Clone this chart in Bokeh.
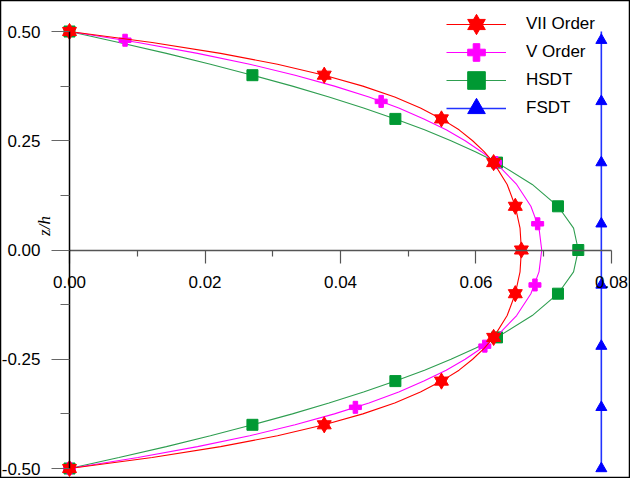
import math
from bokeh.plotting import figure
from bokeh.models import (Range1d, LinearAxis, FixedTicker, PrintfTickFormatter,
                          Legend, LegendItem, Label)
from bokeh.embed import file_html
from bokeh.resources import INLINE

# ---------------- data ----------------
curve_y = [0.5, 0.475, 0.45, 0.425, 0.4, 0.375, 0.35, 0.325, 0.3, 0.275, 0.25, 0.225, 0.2, 0.15, 0.1, 0.05, 0.0,
           -0.05, -0.1, -0.15, -0.2, -0.225, -0.25, -0.275, -0.3, -0.325, -0.35, -0.375, -0.4, -0.425, -0.45,
           -0.475, -0.5]

# VII Order
vii_y = [0.5, 0.4, 0.3, 0.2, 0.1, 0.0, -0.1, -0.2, -0.3, -0.4, -0.5]
vii_x = [0.0, 0.0376, 0.0549, 0.0626, 0.0658, 0.0667, 0.0658, 0.0626, 0.0549, 0.0376, 0.0]
vii_curve_x = [0.0, 0.0122, 0.0223, 0.0307, 0.0376, 0.0433, 0.0480, 0.0518, 0.0549, 0.0575, 0.0595, 0.0612,
               0.0626, 0.0646, 0.0658, 0.0665, 0.0667,
               0.0665, 0.0658, 0.0646, 0.0626, 0.0612, 0.0595, 0.0575, 0.0549, 0.0518, 0.0480, 0.0433,
               0.0376, 0.0307, 0.0223, 0.0122, 0.0]

# V Order
v_y = [0.48, 0.34, 0.2, 0.06, -0.08, -0.22, -0.36, -0.5]
v_x = [0.0082, 0.0460, 0.0629, 0.0691, 0.0687, 0.0613, 0.0422, 0.0]
v_curve_x = [0.0, 0.0101, 0.0189, 0.0266, 0.0333, 0.0391, 0.0442, 0.0486, 0.0523, 0.0556, 0.0584, 0.0608,
             0.0629, 0.0660, 0.0681, 0.0693, 0.0697,
             0.0693, 0.0681, 0.0660, 0.0629, 0.0608, 0.0584, 0.0556, 0.0523, 0.0486, 0.0442, 0.0391,
             0.0333, 0.0266, 0.0189, 0.0101, 0.0]

# HSDT
hsdt_y = [0.5, 0.4, 0.3, 0.2, 0.1, 0.0, -0.1, -0.2, -0.3, -0.4, -0.5]
hsdt_x = [0.0, 0.0270, 0.0481, 0.0631, 0.0721, 0.0751, 0.0721, 0.0631, 0.0481, 0.0270, 0.0]
hsdt_curve_x = [0.0, 0.0073, 0.0143, 0.0208, 0.0270, 0.0329, 0.0383, 0.0434, 0.0481, 0.0524, 0.0563, 0.0599,
                0.0631, 0.0683, 0.0721, 0.0744, 0.0751,
                0.0744, 0.0721, 0.0683, 0.0631, 0.0599, 0.0563, 0.0524, 0.0481, 0.0434, 0.0383, 0.0329,
                0.0270, 0.0208, 0.0143, 0.0073, 0.0]

# FSDT
fsdt_y = [0.48, 0.34, 0.2, 0.06, -0.08, -0.22, -0.36, -0.5]
fsdt_x = [0.0785, 0.0785, 0.0785, 0.0785, 0.0785, 0.0785, 0.0785, 0.0785]
fsdt_line_y = [0.5, -0.5]
fsdt_line_x = [0.0785, 0.0785]

series_labels = ["VII Order", "V Order", "HSDT", "FSDT"]

x_ticks = [0.0, 0.02, 0.04, 0.06, 0.08]
x_minor = [0.01, 0.03, 0.05, 0.07]
y_ticks = [-0.5, -0.25, 0.0, 0.25, 0.5]
y_minor = [-0.375, -0.125, 0.125, 0.375]

# ---------------- figure ----------------
FONT = "Liberation Sans"
FS = "17px"
p = figure(width=630, height=478, output_backend="svg", toolbar_location=None,
           x_axis_location=None, y_axis_location=None,
           x_range=Range1d(-0.010185, 0.082657), y_range=Range1d(-0.52059, 0.57094),
           min_border=0, min_border_right=1, min_border_bottom=1)
p.xgrid.visible = False
p.ygrid.visible = False
p.outline_line_color = "black"
p.outline_line_width = 1.5
p.background_fill_color = "white"
p.border_fill_color = "white"

# axes crossing at the origin
xaxis = LinearAxis(fixed_location=0, bounds=(0, 0.08),
                   ticker=FixedTicker(ticks=x_ticks, minor_ticks=x_minor),
                   formatter=PrintfTickFormatter(format="%.2f"))
xaxis.axis_line_color = "#555555"
xaxis.axis_line_width = 1.5
xaxis.major_tick_line_color = "#555555"
xaxis.minor_tick_line_color = "#555555"
xaxis.major_tick_line_width = 1.2
xaxis.minor_tick_line_width = 1.2
xaxis.major_tick_out = 13
xaxis.major_tick_in = 0
xaxis.minor_tick_out = 6
xaxis.minor_tick_in = 0
xaxis.major_label_standoff = 13
xaxis.major_label_text_font = FONT
xaxis.major_label_text_font_size = FS
xaxis.major_label_text_color = "black"
p.add_layout(xaxis, "below")

yaxis = LinearAxis(fixed_location=0, bounds=(-0.5, 0.5),
                   ticker=FixedTicker(ticks=y_ticks, minor_ticks=y_minor),
                   formatter=PrintfTickFormatter(format="%.2f"))
yaxis.axis_line_color = "black"
yaxis.axis_line_width = 1.5
yaxis.major_tick_line_color = "#666666"
yaxis.minor_tick_line_color = "#666666"
yaxis.major_tick_line_width = 1.2
yaxis.minor_tick_line_width = 1.2
yaxis.major_tick_out = 18
yaxis.major_tick_in = 0
yaxis.minor_tick_out = 9
yaxis.minor_tick_in = 0
yaxis.major_label_standoff = 11
yaxis.major_label_text_font = FONT
yaxis.major_label_text_font_size = FS
yaxis.major_label_text_color = "black"
p.add_layout(yaxis, "left")

# series (drawn back to front)
RED = "#ff0000"
MAG = "#ff00ff"
GRN_L = "#2e9e50"
GRN_M = "#009933"
BLU = "#0000ff"

f_line = p.line(fsdt_line_x, fsdt_line_y, line_color="#2233ff", line_width=1.6)
f_mk = p.scatter(fsdt_x, fsdt_y, marker="triangle", size=11, fill_color=BLU, line_color=BLU)

h_line = p.line(hsdt_curve_x, curve_y, line_color=GRN_L, line_width=1.1)
h_mk = p.scatter(hsdt_x, hsdt_y, marker="square", size=11, fill_color=GRN_M, line_color=GRN_M)

v_line = p.line(v_curve_x, curve_y, line_color=MAG, line_width=1.1)
v_mk = p.scatter(v_x, v_y, marker="plus", size=12, fill_color=MAG, line_color=MAG)

r_line = p.line(vii_curve_x, curve_y, line_color=RED, line_width=1.1)
r_up = p.scatter(vii_x, vii_y, marker="triangle", size=14, fill_color=RED, line_color=RED)
r_dn = p.scatter(vii_x, vii_y, marker="inverted_triangle", size=14, fill_color=RED, line_color=RED)

# legend: one single-item legend per row (rows 28 px apart, large markers)
legend_renderers = [[r_line, r_up, r_dn], [v_line, v_mk], [h_line, h_mk], [f_line, f_mk]]
for i, (lab, rends) in enumerate(zip(series_labels, legend_renderers)):
    lg = Legend(items=[LegendItem(label=lab, renderers=rends)], location=(446, 431 - 28 * i))
    lg.glyph_width = 60
    lg.glyph_height = 44
    lg.label_height = 20
    lg.spacing = 0
    lg.label_standoff = 20
    lg.padding = 0
    lg.margin = 0
    lg.border_line_color = None
    lg.background_fill_alpha = 0
    lg.label_text_font = FONT
    lg.label_text_font_size = FS
    lg.label_text_color = "black"
    p.add_layout(lg, "center")

# y axis title
p.add_layout(Label(x=-0.00369, y=0.055, x_units="data", y_units="data", text="z/h",
                   angle=math.pi / 2, text_align="center", text_baseline="middle",
                   text_font="Liberation Serif", text_font_style="italic",
                   text_font_size="17px", text_color="black"))

open("out.html", "w").write(file_html(p, INLINE))
